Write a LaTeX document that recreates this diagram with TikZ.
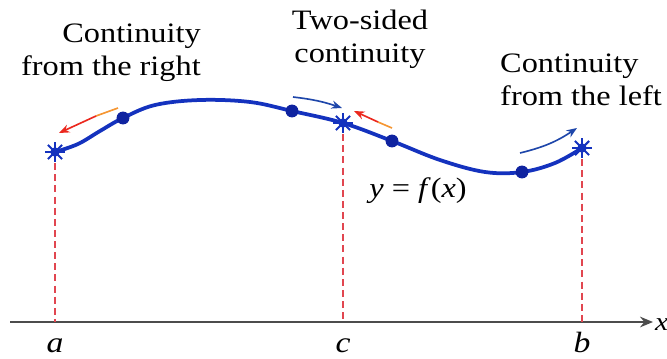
\documentclass[tikz,border=0pt]{standalone}
\usepackage{fontspec}
\setmainfont{Liberation Serif}[FakeStretch=1.15]
\usetikzlibrary{arrows.meta,calc}
\definecolor{cblue}{RGB}{20,50,190}
\definecolor{dblue}{RGB}{15,35,160}
\definecolor{dred}{RGB}{225,70,80}
\definecolor{ared}{RGB}{235,40,30}
\definecolor{aorange}{RGB}{245,150,50}
\definecolor{ablue}{RGB}{30,70,170}
\tikzset{
  dotpt/.style={circle,fill=dblue,inner sep=0pt,minimum size=11pt},
  starpt/.style={circle,inner sep=0pt,minimum size=16pt},
  lbl/.style={align=center,font=\fontsize{24}{27.5}\selectfont,inner sep=0pt,anchor=base},
  vdash/.style={dred,line width=1pt,dash pattern=on 6pt off 3.5pt},
  redarr/.style={ared,line width=1.4pt,-{Stealth[length=9pt,width=7pt]}},
  orgline/.style={aorange,line width=1.4pt},
  bluarr/.style={ablue,line width=1.4pt,-{Stealth[length=9pt,width=7pt]}},
}
\begin{document}
\begin{tikzpicture}[x=0.03cm,y=-0.03cm]
\useasboundingbox (0,0) rectangle (667,358);
% axis
\coordinate (x0) at (10,322);
\coordinate (x1) at (653,322);
\draw[line width=1.8pt,black!70,-{Stealth[length=11pt,width=9pt]}] (x0) -- (x1);
\node[anchor=base west,inner sep=0pt,font=\fontsize{22}{25}\selectfont\itshape] (xl) at (655,330) {x};
% feet
\coordinate (fa) at (55,322);
\coordinate (fc) at (343,322);
\coordinate (fb) at (582,322);
% dashed
\draw[vdash] (55,152) -- (fa);
\draw[vdash] (343,123) -- (fc);
\draw[vdash] (582,148) -- (fb);
% curve
\draw[cblue,line width=3.2pt] plot[smooth,tension=0.6] coordinates {(55,152) (78,144) (100,131) (123,118) (155,105) (200,100) (250,102) (292,111) (343,123) (392,141) (440,160) (485,172) (522,172) (555,163) (582,148)};
% star points
\node[starpt] (sa) at (55,152) {};
\node[starpt] (sc) at (343,123) {};
\node[starpt] (sb) at (582,148) {};
\foreach \p in {sa,sc,sb}{
  \foreach \ang in {0,45,...,315}{
    \draw[cblue,line width=1.8pt] (\p.center) -- ++(\ang:8.5pt);
  }
  \fill[cblue] (\p.center) circle (4pt);
}
% dots
\node[dotpt] (d1) at (123,118) {};
\node[dotpt] (d2) at (292,111) {};
\node[dotpt] (d3) at (392,141) {};
\node[dotpt] (d4) at (522,172) {};
% arrows
\coordinate (r1s) at (118,108);
\coordinate (r1m) at (96,116);
\coordinate (r1e) at (59,133);
\draw[orgline] (r1s) -- (r1m);
\draw[redarr] (r1m) -- (r1e);
\coordinate (b1s) at (293,97);
\coordinate (b1e) at (342,108);
\draw[bluarr] (b1s) to[bend left=6] (b1e);
\coordinate (r2s) at (392,128);
\coordinate (r2m) at (378,122);
\coordinate (r2e) at (354,111);
\draw[orgline] (r2s) -- (r2m);
\draw[redarr] (r2m) -- (r2e);
\coordinate (b2s) at (520,153);
\coordinate (b2e) at (577,128);
\draw[bluarr] (b2s) to[bend right=10] (b2e);
% labels
\node[lbl,align=right,anchor=base east] (t1) at (201,75) {Continuity\\from the right};
\node[lbl] (t2) at (360,62) {Two-sided\\continuity};
\node[lbl,align=left,anchor=base west] (t3) at (500,105) {Continuity\\from the left};
\node[lbl] (fx) at (418,197) {\textit{y} = \textit{f}(\textit{x})};
\node[lbl,font=\fontsize{25}{25}\selectfont\itshape] (la) at (55,352) {a};
\node[lbl,font=\fontsize{25}{25}\selectfont\itshape] (lc) at (343,352) {c};
\node[lbl,font=\fontsize{25}{25}\selectfont\itshape] (lb) at (582,352) {b};
\end{tikzpicture}
\end{document}
